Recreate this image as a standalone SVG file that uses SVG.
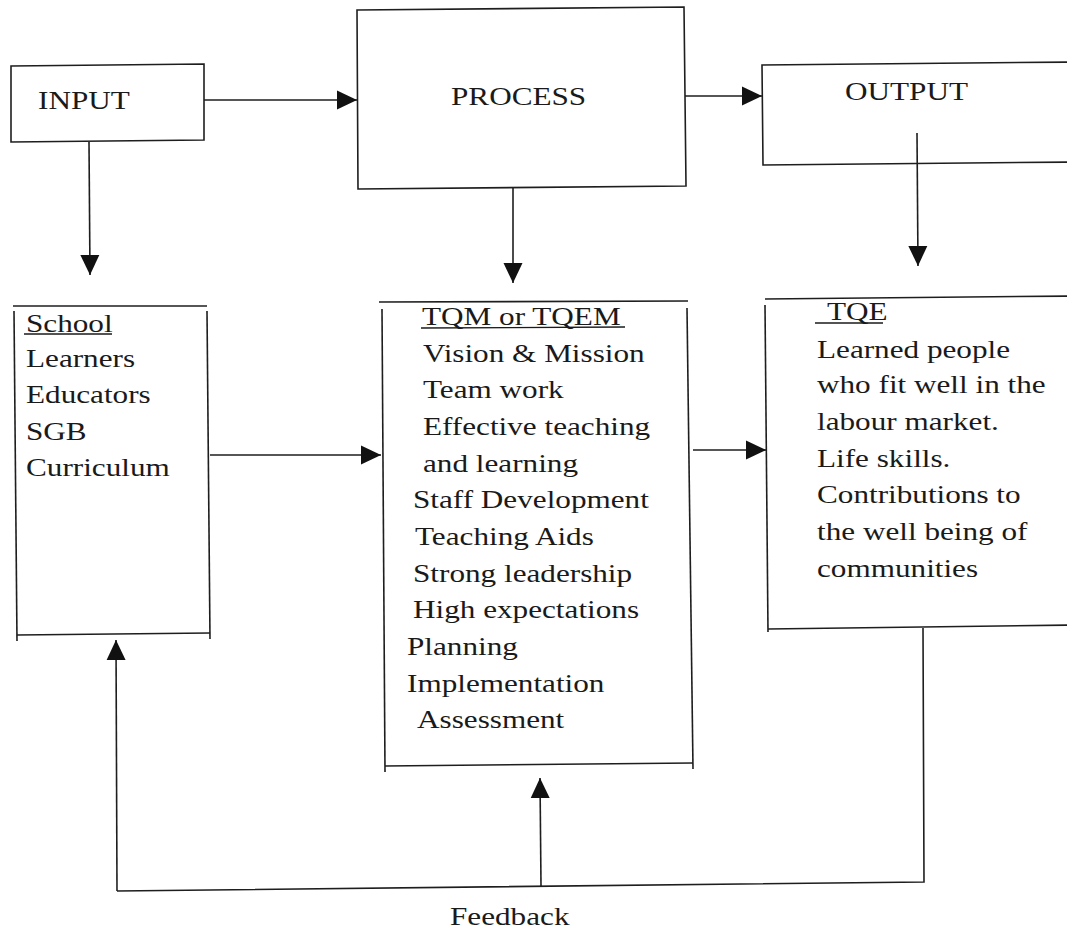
<svg xmlns="http://www.w3.org/2000/svg" width="1067" height="930" viewBox="0 0 1067 930">
  <style>
    .edge { fill: none; stroke: #1e1e1e; stroke-width: 1.6; }
    .box { fill: none; stroke: #1e1e1e; stroke-width: 1.6; }
    .lbl { font-family: "Liberation Serif", "Times New Roman", serif; font-size: 26px; fill: #1a1a1a; }
    .ul { stroke: #1a1a1a; stroke-width: 1.3; }
  </style>
  <defs>
    <marker id="arrow" viewBox="0 0 20 20" refX="20" refY="10" markerWidth="20" markerHeight="20" markerUnits="userSpaceOnUse" orient="auto">
      <path d="M0,0.5 L20,10 L0,19.5 z" fill="#111"/>
    </marker>
  </defs>

  <rect width="1067" height="930" fill="#ffffff"/>

  <!-- top row -->
  <g id="input">
    <path class="box" d="M11,66 L204,64 L204,140 L11,142 Z"/>
    <text class="lbl" transform="matrix(1.2 0 0 1 38 109)">INPUT</text>
  </g>

  <g id="process">
    <path class="box" d="M357,10 L684,7 L686,186 L358,189 Z"/>
    <text class="lbl" transform="matrix(1.2 0 0 1 451 105)">PROCESS</text>
  </g>

  <g id="output">
    <path class="box" d="M1075,62 L762,65 L763,165 L1075,162"/>
    <text class="lbl" transform="matrix(1.2 0 0 1 845 100)">OUTPUT</text>
  </g>

  <!-- lower row -->
  <g id="school">
    <line class="box" x1="13" y1="306" x2="207" y2="306"/>
    <line class="box" x1="14" y1="311" x2="17" y2="641"/>
    <line class="box" x1="207" y1="311" x2="210" y2="639"/>
    <line class="box" x1="17" y1="635" x2="210" y2="633"/>
    <text class="lbl" transform="matrix(1.2 0 0 1 26 332)">School</text>
    <line class="ul" x1="24" y1="334" x2="112" y2="334"/>
    <text class="lbl" transform="matrix(1.2 0 0 1 26 367)">Learners</text>
    <text class="lbl" transform="matrix(1.2 0 0 1 26 403)">Educators</text>
    <text class="lbl" transform="matrix(1.2 0 0 1 26 440)">SGB</text>
    <text class="lbl" transform="matrix(1.2 0 0 1 26 476)">Curriculum</text>
  </g>

  <g id="tqm">
    <line class="box" x1="379" y1="302" x2="688" y2="301"/>
    <line class="box" x1="382" y1="309" x2="385" y2="772"/>
    <line class="box" x1="687" y1="308" x2="693" y2="769"/>
    <line class="box" x1="385" y1="766" x2="693" y2="763"/>
    <text class="lbl" transform="matrix(1.2 0 0 1 422 325)">TQM or TQEM</text>
    <line class="ul" x1="421" y1="328" x2="625" y2="327"/>
    <text class="lbl" transform="matrix(1.2 0 0 1 423 362)">Vision &amp; Mission</text>
    <text class="lbl" transform="matrix(1.2 0 0 1 423 398)">Team work</text>
    <text class="lbl" transform="matrix(1.2 0 0 1 423 435)">Effective teaching</text>
    <text class="lbl" transform="matrix(1.2 0 0 1 423 472)">and learning</text>
    <text class="lbl" transform="matrix(1.2 0 0 1 413 508)">Staff Development</text>
    <text class="lbl" transform="matrix(1.2 0 0 1 415 545)">Teaching Aids</text>
    <text class="lbl" transform="matrix(1.2 0 0 1 413 582)">Strong leadership</text>
    <text class="lbl" transform="matrix(1.2 0 0 1 413 618)">High expectations</text>
    <text class="lbl" transform="matrix(1.2 0 0 1 407 655)">Planning</text>
    <text class="lbl" transform="matrix(1.2 0 0 1 407 692)">Implementation</text>
    <text class="lbl" transform="matrix(1.2 0 0 1 417 728)">Assessment</text>
  </g>

  <g id="tqe">
    <line class="box" x1="765" y1="299" x2="1075" y2="296"/>
    <line class="box" x1="765" y1="305" x2="768" y2="632"/>
    <path class="box" d="M768,629 L1075,625"/>
    <text class="lbl" transform="matrix(1.2 0 0 1 827 320)">TQE</text>
    <line class="ul" x1="815" y1="323" x2="883" y2="323"/>
    <text class="lbl" transform="matrix(1.2 0 0 1 817 358)">Learned people</text>
    <text class="lbl" transform="matrix(1.2 0 0 1 817 393)">who fit well in the</text>
    <text class="lbl" transform="matrix(1.2 0 0 1 817 430)">labour market.</text>
    <text class="lbl" transform="matrix(1.2 0 0 1 817 467)">Life skills.</text>
    <text class="lbl" transform="matrix(1.2 0 0 1 817 503)">Contributions to</text>
    <text class="lbl" transform="matrix(1.2 0 0 1 817 540)">the well being of</text>
    <text class="lbl" transform="matrix(1.2 0 0 1 817 577)">communities</text>
  </g>

  <g id="feedback-label">
    <text class="lbl" transform="matrix(1.2 0 0 1 450 925)">Feedback</text>
  </g>

  <!-- connectors -->
  <g id="connectors">
    <line class="edge" x1="204" y1="100" x2="357" y2="100" marker-end="url(#arrow)"/>
    <line class="edge" x1="685" y1="96" x2="762" y2="96" marker-end="url(#arrow)"/>
    <line class="edge" x1="89" y1="142" x2="90" y2="275" marker-end="url(#arrow)"/>
    <line class="edge" x1="513" y1="188" x2="513" y2="283" marker-end="url(#arrow)"/>
    <line class="edge" x1="917" y1="133" x2="918" y2="266" marker-end="url(#arrow)"/>
    <line class="edge" x1="210" y1="455" x2="381" y2="455" marker-end="url(#arrow)"/>
    <line class="edge" x1="693" y1="450" x2="766" y2="450" marker-end="url(#arrow)"/>
    <!-- feedback loop -->
    <path class="edge" d="M923,628 L924,882 L117,891"/>
    <line class="edge" x1="117" y1="891" x2="116" y2="640" marker-end="url(#arrow)"/>
    <line class="edge" x1="541" y1="886" x2="540" y2="778" marker-end="url(#arrow)"/>
  </g>
</svg>
